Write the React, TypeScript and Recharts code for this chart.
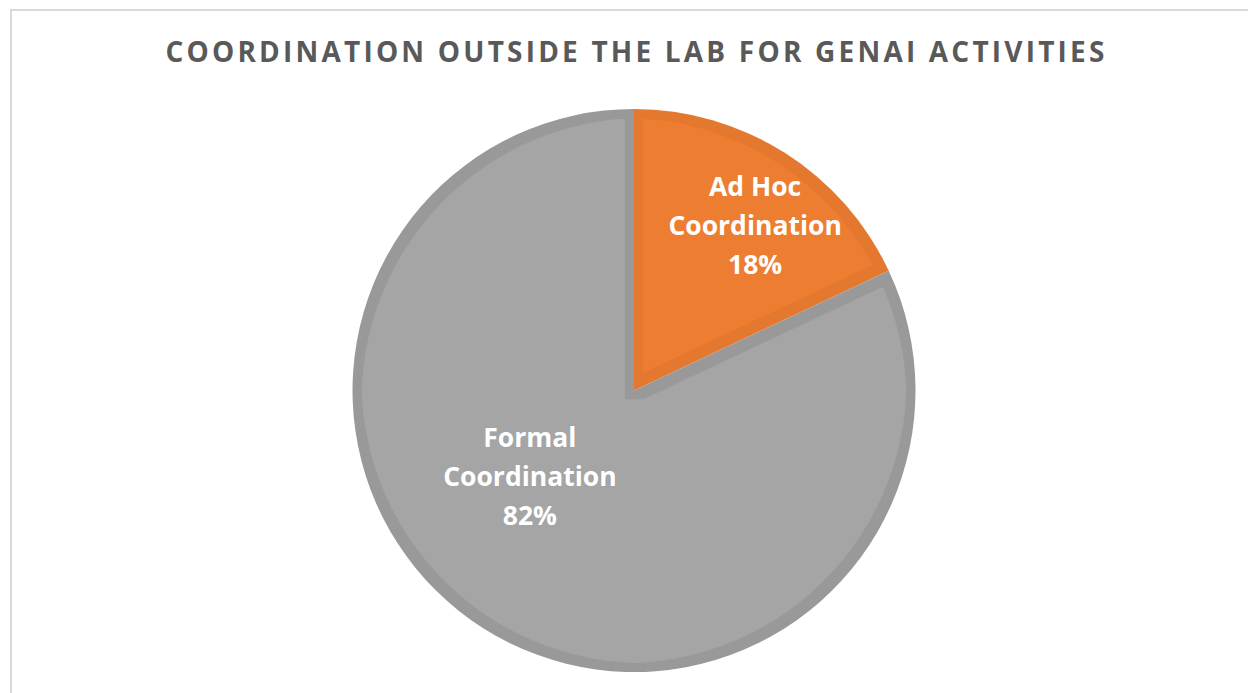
import { PieChart, Pie, Cell } from "recharts";

const sliceNames = ["Ad Hoc Coordination", "Formal Coordination"];
const sliceLines = [
  ["Ad Hoc", "Coordination"],
  ["Formal", "Coordination"],
];
const sliceValues = [18, 82];
const sliceColors = ["#ED7D31", "#A5A5A5"];
const sliceEdgeShade = [0.96, 0.93];

// label placement tweaks (fraction of radius, degrees off the slice middle)
const labelRadius = [0.725, 0.48];
const labelAngleShift = [-4, -18];

const data = sliceNames.map((name, i) => ({ name, value: sliceValues[i] }));
const total = sliceValues.reduce((a, b) => a + b, 0);

const RAD = Math.PI / 180;

function renderLabel(props: any) {
  const { cx, cy, midAngle, outerRadius, index, value } = props;
  const r = outerRadius * labelRadius[index];
  const a = (midAngle + labelAngleShift[index]) * RAD;
  const x = cx + r * Math.cos(a);
  const y = cy - r * Math.sin(a);
  const lines = [...sliceLines[index], `${Math.round((value / total) * 100)}%`];
  return (
    <text
      x={x}
      y={y - 30}
      fill="#ffffff"
      textAnchor="middle"
      fontFamily="'Open Sans', sans-serif"
      fontWeight={700}
      fontSize={26.5}
    >
      {lines.map((t, i) => (
        <tspan key={i} x={x} dy={i === 0 ? 0 : 39}>
          {t}
        </tspan>
      ))}
    </text>
  );
}

// darker rim just inside each slice edge (Excel bevel look)
function EdgeFilter({ id, shade }: { id: string; shade: number }) {
  const m = `${shade} 0 0 0 0  0 ${shade} 0 0 0  0 0 ${shade} 0 0  0 0 0 1 0`;
  return (
    <filter id={id} x="-5%" y="-5%" width="110%" height="110%" colorInterpolationFilters="sRGB">
      <feColorMatrix in="SourceGraphic" type="matrix" values={m} result="dark" />
      <feMorphology in="SourceGraphic" operator="erode" radius="9" result="inner" />
      <feMerge>
        <feMergeNode in="dark" />
        <feMergeNode in="inner" />
      </feMerge>
    </filter>
  );
}

export default function App() {
  return (
    <div
      style={{
        position: "fixed",
        left: 0,
        top: 0,
        width: 1248,
        height: 693,
        overflow: "hidden",
        background: "#ffffff",
      }}
    >
      <div
        style={{
          position: "absolute",
          left: 10,
          top: 9,
          width: 1260,
          height: 720,
          border: "2px solid #D9D9D9",
        }}
      />
      <div
        style={{
          position: "absolute",
          left: 0,
          top: 32,
          width: 1273,
          textAlign: "center",
          fontFamily: "'Open Sans', sans-serif",
          fontWeight: 700,
          fontSize: 28,
          letterSpacing: 3.2,
          color: "#595959",
          whiteSpace: "nowrap",
        }}
      >
        COORDINATION OUTSIDE THE LAB FOR GENAI ACTIVITIES
      </div>
      <div style={{ position: "absolute", left: 0, top: 0 }}>
        <PieChart width={1248} height={693} margin={{ top: 0, right: 0, bottom: 0, left: 0 }}>
          <defs>
            {sliceColors.map((c, i) => (
              <EdgeFilter key={c} id={`edge${i}`} shade={sliceEdgeShade[i]} />
            ))}
          </defs>
          <Pie
            data={data}
            dataKey="value"
            nameKey="name"
            cx={634}
            cy={390.5}
            outerRadius={281.5}
            startAngle={90}
            endAngle={-270}
            stroke="none"
            label={renderLabel}
            labelLine={false}
            isAnimationActive={false}
          >
            {data.map((d, i) => (
              <Cell key={d.name} fill={sliceColors[i]} filter={`url(#edge${i})`} />
            ))}
          </Pie>
        </PieChart>
      </div>
    </div>
  );
}
